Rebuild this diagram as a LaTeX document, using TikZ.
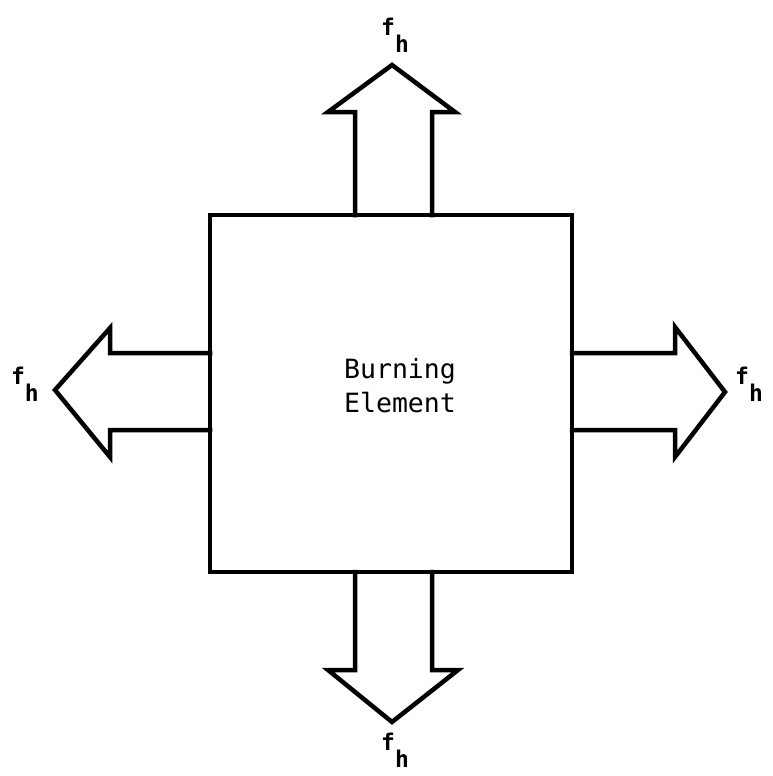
\documentclass[tikz,border=0pt]{standalone}
\usepackage{fontspec}
\setmonofont{DejaVu Sans Mono}
\newcommand{\fhlabel}{f\raisebox{-0.72em}{h}}
\begin{document}
\begin{tikzpicture}[x=1pt,y=-1pt,
  edge/.style={line width=4.5pt, line join=miter, line cap=rect},
  flabel/.style={font=\ttfamily\bfseries\fontsize{23}{23}\selectfont, inner sep=0pt},
  maintext/.style={font=\ttfamily\fontsize{26.5}{34}\selectfont, align=center, inner sep=0pt}]
\useasboundingbox (0,0) rectangle (772,776);
% box
\node[draw, line width=4.5pt, minimum width=362pt, minimum height=357pt, inner sep=0pt] (box) at (391,393.5) {};
\node[maintext] (txt) at (400,386) {Burning\\Element};
% top arrow
\draw[edge] (355,215) -- (355,112) -- (328,112) -- (392,65) -- (455,112) -- (432,112) -- (432,215);
% bottom arrow
\draw[edge] (355,572) -- (355,670) -- (328,670) -- (392,722) -- (458,670) -- (432,670) -- (432,572);
% left arrow
\draw[edge] (210,353) -- (110,353) -- (110,328) -- (55,390) -- (110,457) -- (110,430) -- (210,430);
% right arrow
\draw[edge] (572,353) -- (675,353) -- (675,327) -- (725,392) -- (675,457) -- (675,430) -- (572,430);
% labels
\node[flabel] (ft) at (395,35) {\fhlabel};
\node[flabel] (fb) at (395,750) {\fhlabel};
\node[flabel] (fl) at (25,384) {\fhlabel};
\node[flabel] (fr) at (749,384) {\fhlabel};
\end{tikzpicture}
\end{document}
